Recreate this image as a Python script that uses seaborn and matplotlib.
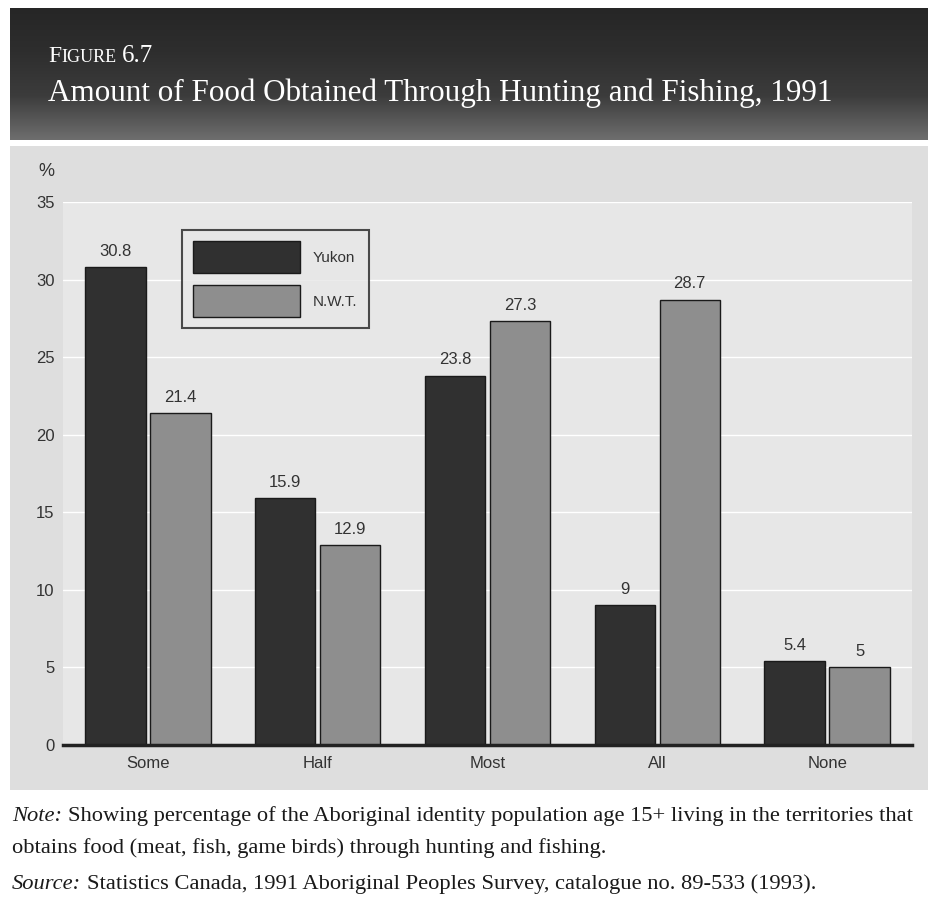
import numpy as np
import pandas as pd
import matplotlib
matplotlib.use("Agg")
import matplotlib.pyplot as plt
import seaborn as sns

# Share of the population obtaining food through hunting and fishing (%)
categories = ["Some", "Half", "Most", "All", "None"]
yukon = [30.8, 15.9, 23.8, 9, 5.4]
nwt = [21.4, 12.9, 27.3, 28.7, 5]
series_names = ["Yukon", "N.W.T."]
y_ticks = [0, 5, 10, 15, 20, 25, 30, 35]

df = pd.DataFrame({
    "category": categories * 2,
    "value": yukon + nwt,
    "territory": [series_names[0]] * len(categories) + [series_names[1]] * len(categories),
})

sns.set_theme(style="white")
plt.rcParams["font.family"] = ["Liberation Sans", "DejaVu Sans"]

W, H = 929, 906
fig = plt.figure(figsize=(W / 100, H / 100), dpi=100)
fig.patch.set_facecolor("white")


def fx(px):
    return px / W


def fy(py):
    return 1 - py / H


# Grey panel behind the chart
panel = fig.add_axes([fx(10), fy(790), fx(929 - 10), (790 - 146) / H])
panel.set_facecolor("#dedede")
panel.set_xticks([])
panel.set_yticks([])
for s in panel.spines.values():
    s.set_visible(False)
panel.set_zorder(0)

# Dark header band with a vertical gradient
head = fig.add_axes([fx(10), fy(140), fx(929 - 10), (140 - 8) / H])
grad = np.linspace(0, 1, 200)[:, None] * np.ones((1, 10))
head.imshow(grad, aspect="auto", cmap=matplotlib.colors.LinearSegmentedColormap.from_list(
    "hdr", ["#262626", "#2e2e2e", "#3c3c3c", "#6e6e6e"]), extent=[0, 1, 0, 1], origin="upper")
head.set_axis_off()

fig.text(fx(48), fy(62), "F", color="white", fontsize=17, family="Liberation Serif", va="baseline")
fig.text(fx(61), fy(62), "IGURE", color="white", fontsize=13, family="Liberation Serif", va="baseline")
fig.text(fx(122), fy(62), "6.7", color="white", fontsize=18, family="Liberation Serif", va="baseline")
fig.text(fx(48), fy(101), "Amount of Food Obtained Through Hunting and Fishing, 1991",
         color="white", fontsize=22.4, family="Liberation Serif", va="baseline")

# Chart axes
ax = fig.add_axes([fx(63), fy(745), fx(912 - 63), (745 - 202) / H])
ax.set_zorder(2)
ax.set_facecolor("#e7e7e7")
sns.barplot(data=df, x="category", y="value", hue="territory", order=categories,
            hue_order=series_names, palette=["#303030", "#8e8e8e"], width=0.765, gap=0.07,
            edgecolor="#1a1a1a", linewidth=1.0, saturation=1, ax=ax, legend=True)

ax.set_ylim(0, 35)
ax.set_xlim(-0.5, 4.5)
ax.set_yticks(y_ticks)
ax.yaxis.grid(True, color="white", linewidth=1.0)
ax.set_axisbelow(True)
ax.tick_params(axis="both", length=0, labelsize=12, colors="#333333")
ax.tick_params(axis="x", pad=8)
ax.tick_params(axis="y", pad=6)
ax.set_xlabel("")
ax.set_ylabel("")
for side in ["top", "right", "left"]:
    ax.spines[side].set_visible(False)
ax.spines["bottom"].set_color("#222222")
ax.spines["bottom"].set_linewidth(2.5)

for cont in ax.containers:
    ax.bar_label(cont, labels=[f"{v:g}" for v in cont.datavalues], padding=6,
                 fontsize=12, color="#333333")

fig.text(fx(46), fy(172), "%", fontsize=13, color="#333333", ha="center", va="center")

leg = ax.legend(loc="upper left", bbox_to_anchor=(fx(182), fy(230)), bbox_transform=fig.transFigure,
                borderaxespad=0, frameon=True, fancybox=False, fontsize=11, handlelength=7.0,
                handleheight=2.8, handletextpad=0.8, labelspacing=0.8, borderpad=0.75)
leg.get_frame().set_edgecolor("#222222")
leg.get_frame().set_linewidth(1.5)
leg.get_frame().set_facecolor("#e7e7e7")
for t in leg.get_texts():
    t.set_color("#333333")

# Notes beneath the chart
serif = "Liberation Serif"
fig.canvas.draw()
renderer = fig.canvas.get_renderer()
note_size = 16.2


def label_line(x_px, y_px, head_txt, body_txt):
    t = fig.text(fx(x_px), fy(y_px), head_txt, fontsize=note_size, family=serif, style="italic",
                 color="#1a1a1a", va="baseline")
    bb = t.get_window_extent(renderer)
    fig.text(bb.x1 / W + fx(6), fy(y_px), body_txt, fontsize=note_size, family=serif,
             color="#1a1a1a", va="baseline")


label_line(12, 821, "Note:",
           "Showing percentage of the Aboriginal identity population age 15+ living in the territories that")
fig.text(fx(12), fy(853), "obtains food (meat, fish, game birds) through hunting and fishing.",
         fontsize=note_size, family=serif, color="#1a1a1a", va="baseline")
label_line(12, 889, "Source:",
           "Statistics Canada, 1991 Aboriginal Peoples Survey, catalogue no. 89-533 (1993).")

fig.savefig("out.png", dpi=100, facecolor="white")
